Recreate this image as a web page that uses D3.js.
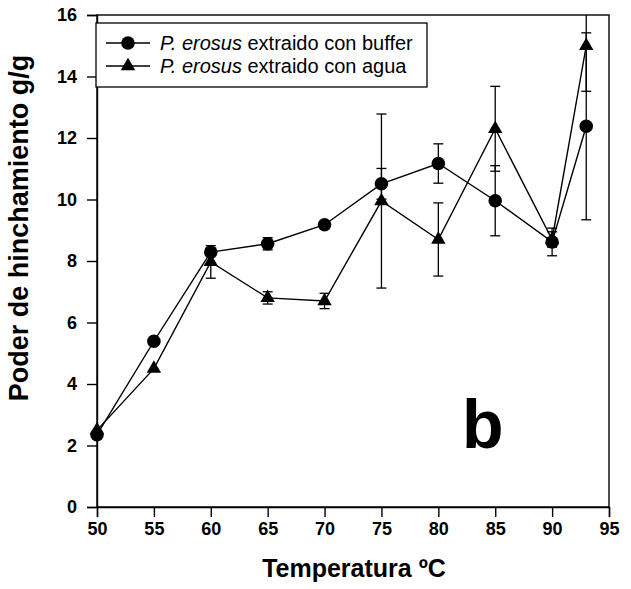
<!DOCTYPE html>
<html><head><meta charset="utf-8">
<script src="https://cdn.jsdelivr.net/npm/d3@7"></script>
<style>
body{margin:0;background:#fff;}
svg{font-family:"Liberation Sans",Arial,Helvetica,sans-serif;}
</style></head>
<body><svg id="c" width="631" height="589"></svg>
<script>
const temps = [50, 55, 60, 65, 70, 75, 80, 85, 90, 93];
const buffer = [2.35, 5.39, 8.29, 8.56, 9.18, 10.51, 11.17, 9.96, 8.62, 12.38];
const bufferErr = [0, 0, 0, 0.2, 0, 0.5, 0.64, 1.14, 0.45, 3.04];
const agua = [2.5, 4.5, 7.97, 6.8, 6.7, 9.95, 8.7, 12.3, 8.7, 15.0];
const aguaErr = [0, 0, 0.53, 0.2, 0.25, 2.83, 1.19, 1.38, 0.25, 1.48];
const xTicks = [50, 55, 60, 65, 70, 75, 80, 85, 90, 95];
const yTicks = [0, 2, 4, 6, 8, 10, 12, 14, 16];
const seriesNames = ["extraido con buffer", "extraido con agua"];

const svg = d3.select("#c");
const L = 97, R = 609, T = 15, B = 507;
const x = d3.scaleLinear().domain([50, 95]).range([L, R]);
const y = d3.scaleLinear().domain([0, 16]).range([B, T]);

// frame
svg.append("rect").attr("x", L).attr("y", T).attr("width", R - L).attr("height", B - T)
  .attr("fill", "none").attr("stroke", "#000").attr("stroke-width", 1.4);

const xAxis = svg.append("g").attr("transform", `translate(0,${B})`)
  .call(d3.axisBottom(x).tickValues(xTicks).tickSize(10).tickPadding(5).tickFormat(d3.format("d")));
const yAxis = svg.append("g").attr("transform", `translate(${L},0)`)
  .call(d3.axisLeft(y).tickValues(yTicks).tickSize(10).tickPadding(10).tickFormat(d3.format("d")));
[xAxis, yAxis].forEach(g => {
  g.select(".domain").attr("stroke", "#000").attr("stroke-width", 1.4);
  g.selectAll(".tick line").attr("stroke", "#000").attr("stroke-width", 1.4);
  g.selectAll(".tick text").attr("fill", "#000").style("font-size", "18px")
    .style("font-family", '"Liberation Sans",Arial,sans-serif').style("font-weight", "bold");
});

const series = [
  {vals: buffer, err: bufferErr, shape: d3.symbolCircle, size: 145},
  {vals: agua, err: aguaErr, shape: d3.symbolTriangle, size: 90}
];
const line = d3.line().x(d => x(d[0])).y(d => y(d[1]));
series.forEach(s => {
  const pts = temps.map((t, i) => [t, s.vals[i], s.err[i]]);
  svg.append("path").datum(pts).attr("d", line).attr("fill", "none")
    .attr("stroke", "#000").attr("stroke-width", 1.4);
  const eb = svg.append("g");
  pts.filter(p => p[2] > 0).forEach(p => {
    const top = Math.min(16, p[1] + p[2]), bot = p[1] - p[2];
    const cx = x(p[0]);
    eb.append("line").attr("x1", cx).attr("x2", cx).attr("y1", y(top)).attr("y2", y(bot))
      .attr("stroke", "#000").attr("stroke-width", 1.3);
    if (p[1] + p[2] <= 16) eb.append("line").attr("x1", cx - 5).attr("x2", cx + 5).attr("y1", y(top)).attr("y2", y(top))
      .attr("stroke", "#000").attr("stroke-width", 1.3);
    eb.append("line").attr("x1", cx - 5).attr("x2", cx + 5).attr("y1", y(bot)).attr("y2", y(bot))
      .attr("stroke", "#000").attr("stroke-width", 1.3);
  });
  svg.append("g").selectAll("path").data(pts).join("path")
    .attr("d", d3.symbol().type(s.shape).size(s.size))
    .attr("transform", d => `translate(${x(d[0])},${y(d[1])})`)
    .attr("fill", "#000");
});

// legend
const lg = svg.append("g");
lg.append("rect").attr("x", 96).attr("y", 23).attr("width", 331).attr("height", 64)
  .attr("fill", "#fff").attr("stroke", "#000").attr("stroke-width", 1.3);
[43, 66].forEach((ly, i) => {
  lg.append("line").attr("x1", 106).attr("x2", 150).attr("y1", ly).attr("y2", ly)
    .attr("stroke", "#000").attr("stroke-width", 1.4);
  lg.append("path").attr("d", d3.symbol().type(series[i].shape).size(series[i].size))
    .attr("transform", `translate(128,${ly})`).attr("fill", "#000");
  const t = lg.append("text").attr("x", 160).attr("y", ly + 7).style("font-size", "20px");
  t.append("tspan").style("font-style", "italic").text("P. erosus");
  t.append("tspan").text(" " + seriesNames[i]);
});

// axis titles
svg.append("text").attr("transform", "translate(28,228) rotate(-90)")
  .attr("text-anchor", "middle").style("font-size", "27px").style("font-weight", "bold")
  .text("Poder de hinchamiento g/g");
svg.append("text").attr("x", 354).attr("y", 577).attr("text-anchor", "middle")
  .style("font-size", "25px").style("font-weight", "bold").text("Temperatura ºC");
svg.append("text").attr("x", 462).attr("y", 448)
  .style("font-size", "68px").style("font-weight", "bold").text("b");
</script></body></html>
